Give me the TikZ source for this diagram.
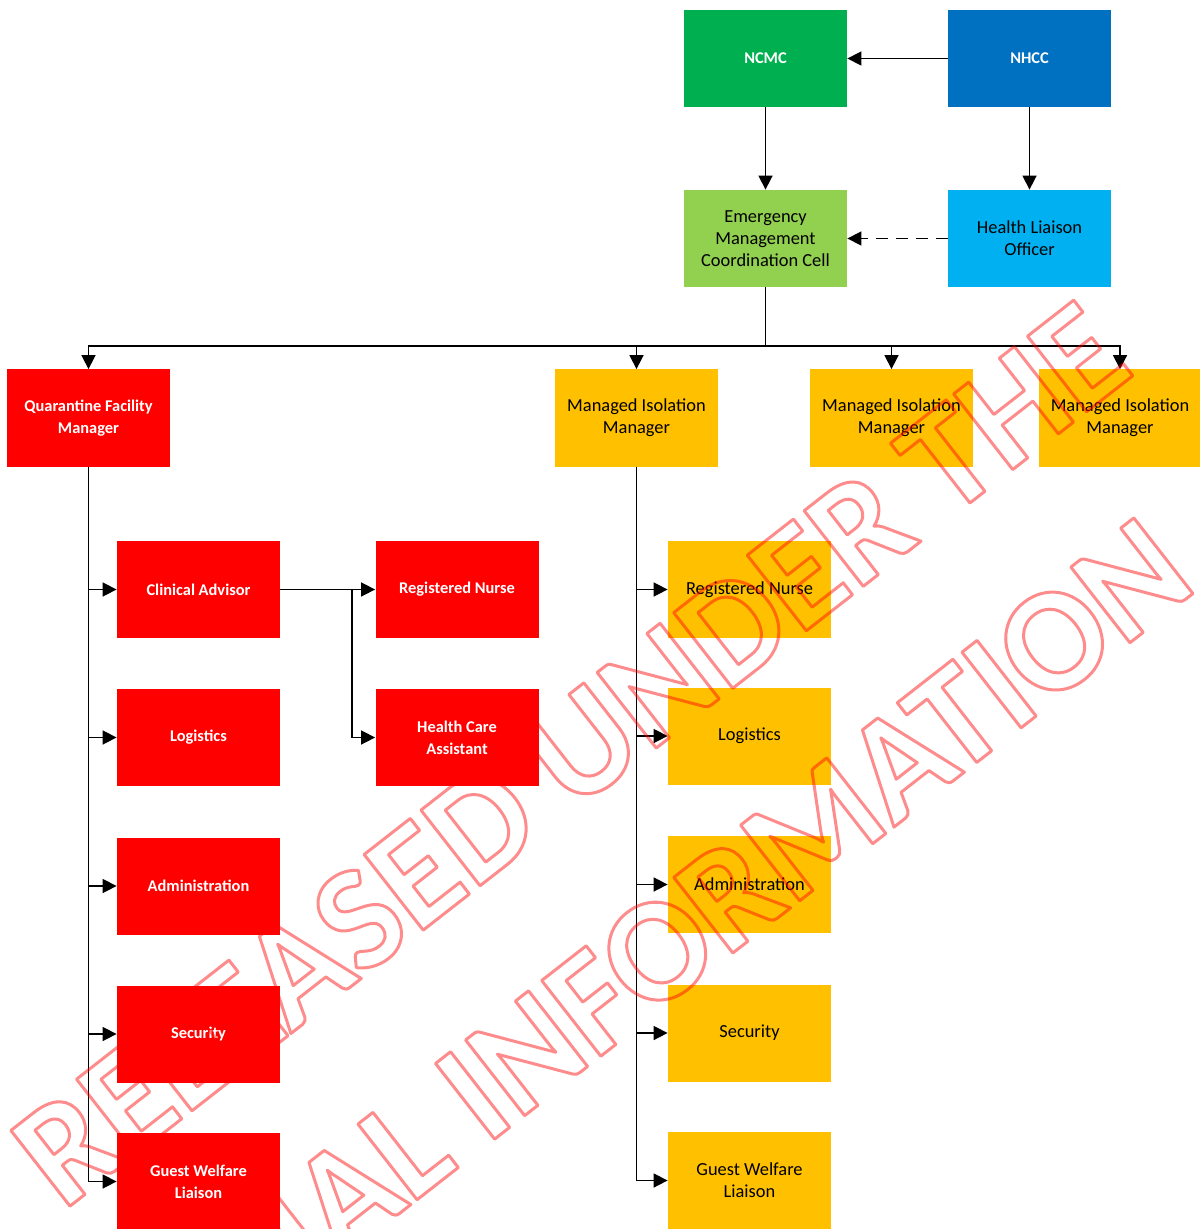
\documentclass[tikz,border=0pt]{standalone}
\usepackage{fontspec}
\setmainfont{Carlito}
\usetikzlibrary{arrows.meta}

\definecolor{ncmcgreen}{HTML}{00B050}
\definecolor{nhccblue}{HTML}{0070C0}
\definecolor{emccgreen}{HTML}{92D050}
\definecolor{liaisonblue}{HTML}{00B0F0}
\definecolor{qfmred}{HTML}{FF0000}
\definecolor{mimamber}{HTML}{FFC000}

% outlined watermark text
\newcommand{\stampline}[1]{\special{pdf:literal direct 1 Tr 1.5 w 1 j 1 0 0 RG}#1\special{pdf:literal direct 0 Tr}}

\begin{document}
\begin{tikzpicture}[
        x=0.5pt, y=-0.5pt,
        every node/.style={minimum width=81.5pt, minimum height=48.5pt, inner sep=0pt, align=center},
        darkn/.style={text=white, font=\fontsize{8.2}{11}\selectfont\bfseries},
        lightn/.style={text=black, font=\fontsize{9.2}{11}\selectfont},
        ncmcn/.style={darkn, fill=ncmcgreen},
        nhccn/.style={darkn, fill=nhccblue},
        redn/.style={darkn, fill=qfmred},
        emccn/.style={lightn, fill=emccgreen},
        liaisonn/.style={lightn, fill=liaisonblue},
        ambern/.style={lightn, fill=mimamber},
        stampn/.style={minimum width=0pt, minimum height=0pt, font=\fontsize{74}{74}\selectfont\bfseries, rotate=38},
        link/.style={draw, -{Triangle[length=7pt, width=7pt]}, line width=0.8pt},
    ]
    \useasboundingbox (0,0) rectangle (1199,1229);

    % top
    \node[ncmcn] (ncmc) at (765.5,58.5) {NCMC};
    \node[nhccn] (nhcc) at (1029.5,58.5) {NHCC};
    \node[emccn] (emcc) at (765.5,238.5) {Emergency\\Management\\Coordination Cell};
    \node[liaisonn] (hlo) at (1029.5,238.5) {Health Liaison\\Officer};

    % managers
    \node[redn] (qfm) at (88.5,418) {Quarantine Facility\\Manager};
    \node[ambern] (mim1) at (636.5,418) {Managed Isolation\\Manager};
    \node[ambern] (mim2) at (891.5,418) {Managed Isolation\\Manager};
    \node[ambern] (mim3) at (1120,418) {Managed Isolation\\Manager};

    % quarantine facility
    \node[redn] (ca) at (198.5,589.5) {Clinical Advisor};
    \node[redn] (qlog) at (198.5,737.5) {Logistics};
    \node[redn] (qadm) at (198.5,886) {Administration};
    \node[redn] (qsec) at (198.5,1034) {Security};
    \node[redn] (qgwl) at (198.5,1181.5) {Guest Welfare\\Liaison};
    \node[redn] (rn) at (457,589.5) {Registered Nurse};
    \node[redn] (hca) at (457,737.5) {Health Care\\Assistant};

    % managed isolation
    \node[ambern] (mrn) at (749.5,589.5) {Registered Nurse};
    \node[ambern] (mlog) at (749.5,736) {Logistics};
    \node[ambern] (madm) at (749.5,884.5) {Administration};
    \node[ambern] (msec) at (749.5,1033) {Security};
    \node[ambern] (mgwl) at (749.5,1180.5) {Guest Welfare\\Liaison};

    \coordinate (bus) at (0,346);
    \coordinate (split) at (352,0);

    \draw[link] (nhcc) -- (ncmc);
    \draw[link] (ncmc) -- (emcc);
    \draw[link] (nhcc) -- (hlo);
    \draw[link, dash pattern=on 6pt off 4pt] (hlo) -- (emcc);
    \draw[line width=0.8pt] (emcc.south) -- (emcc.south |- bus);
    \foreach \n in {qfm, mim1, mim2, mim3}
        \draw[link] (emcc.south |- bus) -| (\n.north);
    \foreach \n in {ca, qlog, qadm, qsec, qgwl}
        \draw[link] (qfm.south) |- (\n.west);
    \foreach \n in {mrn, mlog, madm, msec, mgwl}
        \draw[link] (mim1.south) |- (\n.west);
    \draw[link] (ca) -- (rn);
    \draw[link] (ca.east -| split) |- (hca.west);

    % watermark
    \begin{scope}[opacity=0.45]
        \node[stampn, anchor=base] (stampa) at (600,792) {\stampline{RELEASED UNDER THE}};
        \node[stampn, anchor=base east] (stampb) at (1200,588) {\stampline{OFFICIAL INFORMATION}};
    \end{scope}
\end{tikzpicture}
\end{document}
